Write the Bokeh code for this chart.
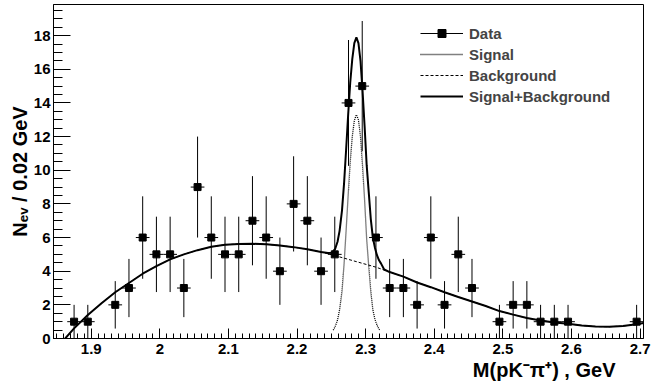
import numpy as np
from bokeh.plotting import figure
from bokeh.models import (Range1d, FixedTicker, CustomJSTickFormatter, Title,
                          Legend, LegendItem, ColumnDataSource)
from bokeh.embed import file_html
from bokeh.resources import INLINE

# ---------------- data ----------------
mass = [1.875, 1.895, 1.935, 1.955, 1.975, 1.995, 2.015, 2.035, 2.055, 2.075,
        2.095, 2.115, 2.135, 2.155, 2.175, 2.195, 2.215, 2.235, 2.255, 2.275,
        2.295, 2.315, 2.335, 2.355, 2.375, 2.395, 2.415, 2.435, 2.455, 2.495,
        2.515, 2.535, 2.555, 2.575, 2.595, 2.695]
counts = [1, 1, 2, 3, 6, 5, 5, 3, 9, 6,
          5, 5, 7, 6, 4, 8, 7, 4, 5, 14,
          15, 6, 3, 3, 2, 6, 2, 5, 3, 1,
          2, 2, 1, 1, 1, 1]
errors = [1, 1, 1.41, 1.73, 2.45, 2.24, 2.24, 1.73, 3, 2.45,
          2.24, 2.24, 2.65, 2.45, 2, 2.83, 2.65, 2, 2.24, 3.74,
          3.87, 2.45, 1.73, 1.73, 1.41, 2.45, 1.41, 2.24, 1.73, 1,
          1.41, 1.41, 1, 1, 1, 1]
bin_half_width = 0.01

bkg_x = [1.862, 1.875, 1.895, 1.915, 1.935, 1.955, 1.975, 1.995, 2.015, 2.035,
         2.055, 2.075, 2.095, 2.115, 2.135, 2.155, 2.175, 2.195, 2.215, 2.235,
         2.255, 2.275, 2.295, 2.315, 2.335, 2.355, 2.375, 2.395, 2.415, 2.435,
         2.455, 2.475, 2.495, 2.515, 2.535, 2.555, 2.575, 2.595, 2.615, 2.635,
         2.655, 2.675, 2.695, 2.705]
bkg_y = [0.0, 0.6, 1.4, 2.1, 2.75, 3.3, 3.85, 4.3, 4.7, 5.0,
         5.25, 5.45, 5.57, 5.62, 5.63, 5.6, 5.53, 5.43, 5.3, 5.14,
         4.93, 4.7, 4.47, 4.24, 3.95, 3.68, 3.33, 3.05, 2.75, 2.47,
         2.2, 1.93, 1.63, 1.42, 1.22, 1.07, 0.95, 0.88, 0.77, 0.71,
         0.7, 0.74, 0.84, 0.92]

sig_x = [2.2527, 2.2555, 2.259, 2.262, 2.2655, 2.2685, 2.2715, 2.2745, 2.2775,
         2.2805, 2.2835, 2.2865, 2.2895, 2.2925, 2.2955, 2.2985, 2.3015, 2.3045,
         2.3075, 2.3105, 2.3135, 2.3165, 2.3195, 2.3212]
sig_y = [0.5, 0.7, 1.1, 1.7, 2.8, 4.4, 6.4, 8.5, 10.5,
         12.0, 12.95, 13.3, 13.0, 12.0, 10.25, 8.2, 5.9, 4.3,
         2.8, 1.7, 1.15, 0.8, 0.55, 0.5]

tot_x = [1.862, 1.875, 1.895, 1.915, 1.935, 1.955, 1.975, 1.995, 2.015, 2.035,
         2.055, 2.075, 2.095, 2.115, 2.135, 2.155, 2.175, 2.195, 2.215, 2.235,
         2.245, 2.251, 2.2555, 2.259, 2.262, 2.2655, 2.2685, 2.2715, 2.2745,
         2.2775, 2.2805, 2.2835, 2.2865, 2.2895, 2.2925, 2.2955, 2.2985, 2.3015,
         2.3045, 2.3075, 2.3105, 2.3135, 2.3165, 2.3195, 2.3225, 2.327,
         2.335, 2.355, 2.375, 2.395, 2.415, 2.435, 2.455, 2.475, 2.495, 2.515,
         2.535, 2.555, 2.575, 2.595, 2.615, 2.635, 2.655, 2.675, 2.695, 2.705]
tot_y = [0.0, 0.6, 1.4, 2.1, 2.75, 3.3, 3.85, 4.3, 4.7, 5.0,
         5.25, 5.45, 5.57, 5.62, 5.63, 5.6, 5.53, 5.43, 5.3, 5.14,
         5.08, 5.1, 5.32, 5.75, 6.4, 7.6, 9.2, 11.2, 13.3,
         15.2, 16.6, 17.55, 17.9, 17.55, 16.5, 14.7, 12.6, 10.3,
         8.7, 7.1, 6.0, 5.4, 4.95, 4.65, 4.45, 4.1,
         3.95, 3.68, 3.33, 3.05, 2.75, 2.47, 2.2, 1.93, 1.63, 1.42,
         1.22, 1.07, 0.95, 0.88, 0.77, 0.71, 0.7, 0.74, 0.84, 0.92]

x_tick_values = [1.9, 2.0, 2.1, 2.2, 2.3, 2.4, 2.5, 2.6, 2.7]
x_tick_labels = ["1.9", "2", "2.1", "2.2", "2.3", "2.4", "2.5", "2.6", "2.7"]
y_tick_values = [0, 2, 4, 6, 8, 10, 12, 14, 16, 18]

x_title = "M(pK\u207b\u03c0\u207a) , GeV"
y_title = "N\u2091\u1d65 / 0.02 GeV"
legend_labels = ["Data", "Signal", "Background", "Signal+Background"]

# ---------------- figure ----------------
FONT = "Liberation Sans"
X0, X1 = 1.845, 2.705
Y0, Y1 = 0.0, 19.85

p = figure(width=651, height=385, x_range=Range1d(X0, X1), y_range=Range1d(Y0, Y1),
           output_backend="svg", toolbar_location=None,
           min_border_left=53, min_border_right=8, min_border_top=4, min_border_bottom=47)
p.background_fill_color = "white"
p.border_fill_color = "white"
p.outline_line_color = "black"
p.outline_line_width = 1
p.grid.visible = False

x_minor = [round(v, 2) for v in np.arange(185, 271) / 100.0]
y_minor = [v / 2.0 for v in range(0, 40)]
p.xaxis.ticker = FixedTicker(ticks=x_tick_values, minor_ticks=x_minor)
p.yaxis.ticker = FixedTicker(ticks=y_tick_values, minor_ticks=y_minor)
p.xaxis.formatter = CustomJSTickFormatter(args=dict(labels=x_tick_labels),
                                          code="return labels[index];")

for ax in (p.xaxis[0], p.yaxis[0]):
    ax.axis_line_color = "black"
    ax.major_tick_line_color = "black"
    ax.minor_tick_line_color = "black"
    ax.major_tick_out = 0
    ax.minor_tick_out = 0
    ax.major_label_text_font = FONT
    ax.major_label_text_font_style = "bold"
    ax.major_label_text_font_size = "15px"
    ax.major_label_text_color = "black"
p.xaxis.major_tick_in = 10
p.xaxis.minor_tick_in = 5
p.yaxis.major_tick_in = 17
p.yaxis.minor_tick_in = 9
p.xaxis.major_label_standoff = 5
p.yaxis.major_label_standoff = 3

# curves
r_bkg = p.line(bkg_x, bkg_y, line_color="black", line_width=1, line_dash="3 2")
r_sig = p.line(sig_x, sig_y, line_color="black", line_width=1.3, line_dash="1 1")
r_tot = p.line(tot_x, tot_y, line_color="black", line_width=2)

# data with error bars
src = ColumnDataSource(dict(
    x=mass, y=counts,
    xl=[m - bin_half_width for m in mass], xr=[m + bin_half_width for m in mass],
    yl=[c - e for c, e in zip(counts, errors)], yh=[c + e for c, e in zip(counts, errors)],
))
r_hbar = p.segment(x0="xl", y0="y", x1="xr", y1="y", source=src, line_color="black", line_width=1)
r_vbar = p.segment(x0="x", y0="yl", x1="x", y1="yh", source=src, line_color="black", line_width=1)
r_pts = p.scatter("x", "y", source=src, marker="square", size=7,
                  fill_color="black", line_color="black")

legend = Legend(items=[
    LegendItem(label=legend_labels[0], renderers=[r_hbar, r_pts]),
    LegendItem(label=legend_labels[1], renderers=[r_sig]),
    LegendItem(label=legend_labels[2], renderers=[r_bkg]),
    LegendItem(label=legend_labels[3], renderers=[r_tot]),
], location=(367, 232))
legend.border_line_color = None
legend.background_fill_alpha = 0
legend.padding = 0
legend.margin = 0
legend.spacing = 1
legend.glyph_width = 43
legend.glyph_height = 20
legend.label_height = 20
legend.label_standoff = 6
legend.label_text_font = FONT
legend.label_text_font_style = "bold"
legend.label_text_font_size = "15px"
legend.label_text_baseline = "middle"
p.add_layout(legend, "center")

# axis titles (in the side panels, outside the frame)
xt = Title(text=x_title, align="right", offset=28, text_font=FONT,
           text_font_style="bold", text_font_size="20px", text_color="black",
           standoff=0)
p.add_layout(xt, "below")
yt = Title(text=y_title, align="center", text_font=FONT,
           text_font_style="bold", text_font_size="20px", text_color="black",
           standoff=0)
p.add_layout(yt, "left")

open("out.html", "w").write(file_html(p, INLINE))
